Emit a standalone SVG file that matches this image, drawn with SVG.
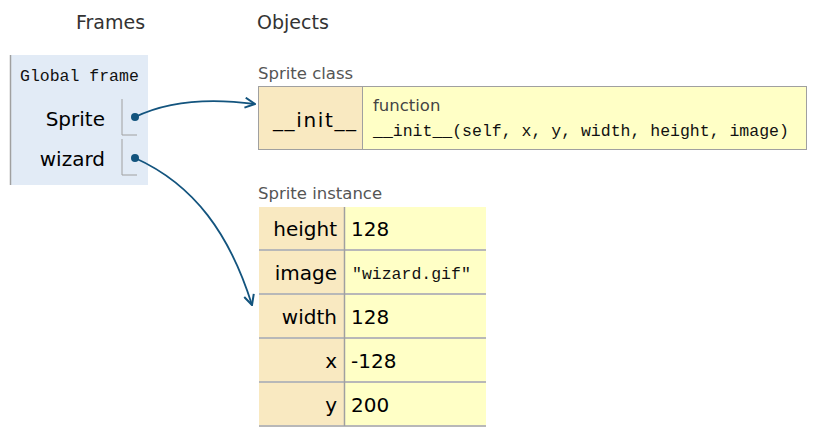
<svg xmlns="http://www.w3.org/2000/svg" width="817" height="442" viewBox="0 0 817 442">
<style>
.h{font-family:"DejaVu Sans","Noto Sans",sans-serif;font-size:19px;fill:#333}
.s{font-family:"DejaVu Sans","Noto Sans",sans-serif;font-size:20px;fill:#000}
.lab{font-family:"DejaVu Sans","Noto Sans",sans-serif;font-size:16.5px;fill:#555}
.m{font-family:"Liberation Mono","DejaVu Sans Mono",monospace;font-size:16.5px;fill:#111}
.key{fill:#f9e9c1}
.val{fill:#ffffc6}
.sep{stroke:#a0a0a0;stroke-width:1.5;fill:none}
.ptr{stroke:#a0a0a0;stroke-width:1;fill:none}
.arr{stroke:#13547e;stroke-width:1.8;fill:none;marker-end:url(#ah)}
.dot{fill:#13547e}
</style>
<defs>
<marker id="ah" viewBox="0 0 12 12" refX="11" refY="6" markerWidth="12" markerHeight="12" markerUnits="userSpaceOnUse" orient="auto">
<path d="M1,1 L11,6 L1,11" fill="none" stroke="#13547e" stroke-width="2"/>
</marker>
</defs>
<rect width="817" height="442" fill="#fff"/>
<text class="h" x="76" y="29">Frames</text>
<text class="h" x="257" y="29">Objects</text>

<g id="global-frame">
<rect x="10" y="55" width="138" height="130" fill="#e2ebf6"/>
<line x1="10.5" y1="55" x2="10.5" y2="185" stroke="#a0a0a0" stroke-width="1.5"/>
<text class="m" x="20" y="81">Global frame</text>
<text class="s" x="105" y="126" text-anchor="end">Sprite</text>
<path class="ptr" d="M122,99 V135 H137"/>
<circle class="dot" cx="135" cy="117" r="4"/>
<text class="s" x="105" y="166" text-anchor="end">wizard</text>
<path class="ptr" d="M122,139 V175 H137"/>
<circle class="dot" cx="135" cy="158" r="4"/>
</g>

<g id="sprite-class">
<text class="lab" x="258" y="79">Sprite class</text>
<rect class="key" x="258" y="86" width="104" height="64"/>
<rect class="val" x="362" y="86" width="445" height="64"/>
<rect x="258.5" y="86.5" width="548" height="63" fill="none" stroke="#a0a0a0" stroke-width="1"/>
<line x1="362.5" y1="86" x2="362.5" y2="150" stroke="#a0a0a0" stroke-width="1"/>
<text class="s" x="273" y="127" textLength="83">__init__</text>
<text class="lab" x="373" y="111" style="fill:#444">function</text>
<text class="m" x="373" y="136">__init__(self, x, y, width, height, image)</text>
</g>

<g id="sprite-instance">
<text class="lab" x="258" y="199">Sprite instance</text>
<rect class="key" x="259" y="207" width="85" height="42"/>
<rect class="val" x="345" y="207" width="141" height="42"/>
<line class="sep" x1="259" y1="250" x2="486" y2="250"/>
<text class="s" x="337" y="236" text-anchor="end">height</text>
<text class="s" x="351" y="236">128</text>

<rect class="key" x="259" y="251" width="85" height="42"/>
<rect class="val" x="345" y="251" width="141" height="42"/>
<line class="sep" x1="259" y1="294" x2="486" y2="294"/>
<text class="s" x="337" y="280" text-anchor="end">image</text>
<text class="m" x="352" y="279">"wizard.gif"</text>

<rect class="key" x="259" y="295" width="85" height="42"/>
<rect class="val" x="345" y="295" width="141" height="42"/>
<line class="sep" x1="259" y1="338" x2="486" y2="338"/>
<text class="s" x="337" y="324" text-anchor="end">width</text>
<text class="s" x="351" y="324">128</text>

<rect class="key" x="259" y="339" width="85" height="42"/>
<rect class="val" x="345" y="339" width="141" height="42"/>
<line class="sep" x1="259" y1="382" x2="486" y2="382"/>
<text class="s" x="337" y="368" text-anchor="end">x</text>
<text class="s" x="351" y="368">-128</text>

<rect class="key" x="259" y="383" width="85" height="42"/>
<rect class="val" x="345" y="383" width="141" height="42"/>
<line class="sep" x1="259" y1="426" x2="486" y2="426"/>
<text class="s" x="337" y="412" text-anchor="end">y</text>
<text class="s" x="351" y="412">200</text>
<line class="sep" x1="344.5" y1="207" x2="344.5" y2="426"/>
</g>

<g id="connectors">
<path class="arr" d="M135,117 C170,100 210,98 255,104"/>
<path class="arr" d="M135,158 C195,185 230,235 252,305"/>
</g>
</svg>
